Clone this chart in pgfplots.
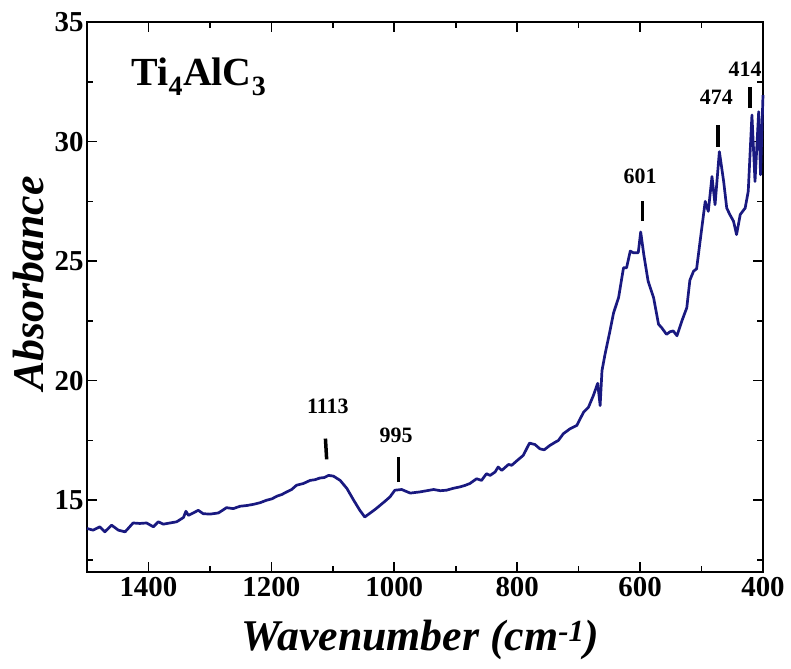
\documentclass[border=0pt]{standalone}
\usepackage{fontspec}
\setmainfont{Liberation Serif}
\usepackage{pgfplots}
\pgfplotsset{compat=1.18}
\definecolor{curve}{RGB}{25,25,128}
\begin{document}
\begin{tikzpicture}
\path[use as bounding box] (-87bp,-97bp) rectangle (704bp,572bp);
\begin{axis}[
    scale only axis,
    width=676bp, height=550bp,
    x dir=reverse,
    xmin=400, xmax=1500,
    ymin=12, ymax=35,
    xtick={400,600,...,1400},
    minor xtick={500,700,...,1300},
    ytick={15,20,...,35},
    minor ytick={12.5,17.5,...,32.5},
    tick align=inside,
    major tick length=10bp,
    minor tick length=6bp,
    axis line style={line width=1.8bp},
    every tick/.style={black, line width=1.6bp},
    /pgf/number format/assume math mode=true,
    /pgf/number format/1000 sep={},
    ticklabel style={font=\fontsize{29}{29}\selectfont\bfseries},
    xticklabel style={yshift=-2bp},
    xlabel={\textbf{\textit{Wavenumber (cm\textsuperscript{-1})}}},
    ylabel={\textbf{\textit{Absorbance}}},
    label style={font=\fontsize{44}{44}\selectfont},
    xlabel style={at={(axis description cs:0.493,-0.142)}, anchor=base},
    ylabel style={at={(axis description cs:-0.087,0.525)}, anchor=center},
    clip=false,
]
\addplot[curve, line width=2.7bp, line join=round] coordinates {
(1500,13.82) (1490,13.75) (1479,13.89) (1471,13.68) (1460,13.96) (1449,13.75)
(1438,13.68) (1433,13.82) (1425,14.05) (1414,14.03) (1403,14.05) (1392,13.89)
(1384,14.10) (1376,14.00) (1365,14.05) (1354,14.10) (1343,14.28) (1339,14.54)
(1335,14.37) (1327,14.47) (1319,14.58) (1311,14.44) (1300,14.42) (1286,14.47)
(1273,14.69) (1262,14.65) (1251,14.75) (1240,14.78) (1229,14.83) (1218,14.90)
(1208,15.00) (1199,15.06) (1191,15.17) (1183,15.24) (1175,15.35) (1167,15.45)
(1159,15.63) (1148,15.70) (1137,15.83) (1129,15.86) (1121,15.93) (1114,15.95)
(1107,16.04) (1099,16.01) (1088,15.83) (1077,15.49) (1066,15.00) (1056,14.58)
(1048,14.30) (1039,14.47) (1031,14.62) (1023,14.79) (1015,14.96) (1007,15.14)
(999,15.42) (988,15.45) (974,15.30) (958,15.35) (947,15.40) (936,15.45)
(925,15.40) (915,15.42) (904,15.50) (893,15.56) (885,15.62) (877,15.70)
(866,15.90) (858,15.83) (850,16.11) (844,16.04) (836,16.18) (831,16.39)
(825,16.25) (814,16.50) (809,16.46) (801,16.64) (790,16.88) (780,17.39)
(771,17.33) (763,17.15) (756,17.11) (747,17.29) (738,17.43) (733,17.50)
(725,17.78) (714,17.99) (703,18.13) (692,18.68) (684,18.89) (676,19.38)
(669,19.89) (665,18.96) (662,20.42) (657,21.11)
(649,22.08) (643,22.85) (635,23.47) (627,24.72) (622,24.72) (616,25.42)
(611,25.35) (603,25.35) (599,26.22) (594,25.28) (587,24.17) (578,23.47)
(570,22.36) (565,22.22) (557,21.94) (551,22.05) (546,22.08) (540,21.88)
(532,22.50) (524,23.05) (519,24.20) (513,24.58) (508,24.68) (503,25.70)
(494,27.50) (489,27.08) (483,28.54) (478,27.36) (471,29.58) (464,28.33)
(459,27.22) (454,26.95) (448,26.67) (443,26.11) (437,26.95) (429,27.22)
(424,27.92) (418,31.11) (413,28.33) (407,31.25) (404,28.61) (400,31.94)
};
% peak labels and marks
\begin{scope}[every node/.style={font=\fontsize{22}{22}\selectfont\bfseries, anchor=base}]
\node at (axis cs:1108,18.63) {1113};
\node at (axis cs:997,17.42) {995};
\node at (axis cs:600,28.25) {601};
\node at (axis cs:476,31.54) {474};
\node at (axis cs:429,32.71) {414};
\end{scope}
\begin{scope}[line width=3.5bp, black]
\draw (axis cs:1110,16.71) -- (axis cs:1112,17.58);
\draw (axis cs:993,15.76) -- (axis cs:993,16.80);
\draw (axis cs:596,26.67) -- (axis cs:596,27.50);
\draw (axis cs:473,29.79) -- (axis cs:473,30.70);
\draw (axis cs:421,31.42) -- (axis cs:421,32.29);
\end{scope}
\node[anchor=base west, font=\fontsize{40}{40}\selectfont\bfseries]
  at (rel axis cs:0.061,0.885) {Ti\textsubscript{4}AlC\textsubscript{3}};
\end{axis}
\end{tikzpicture}
\end{document}
